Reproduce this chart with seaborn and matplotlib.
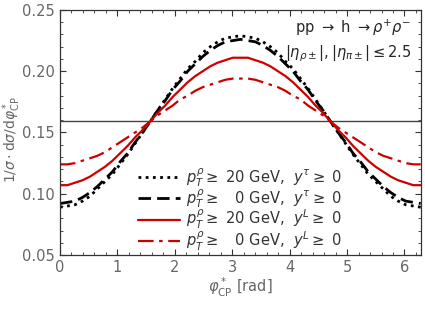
import numpy as np
import pandas as pd
import seaborn as sns
import matplotlib.pyplot as plt
from matplotlib.ticker import MultipleLocator

# phi*_CP sample points (rad), read every 7.5 degrees
phi = [0.000, 0.131, 0.262, 0.393, 0.524, 0.654, 0.785, 0.916, 1.047, 1.178, 1.309, 1.440,
       1.571, 1.702, 1.833, 1.963, 2.094, 2.225, 2.356, 2.487, 2.618, 2.749, 2.880, 3.011,
       3.142, 3.272, 3.403, 3.534, 3.665, 3.796, 3.927, 4.058, 4.189, 4.320, 4.451, 4.581,
       4.712, 4.843, 4.974, 5.105, 5.236, 5.367, 5.498, 5.629, 5.760, 5.890, 6.021, 6.152, 6.283]

tau_pt20 = [0.089, 0.090, 0.091, 0.094, 0.098, 0.104, 0.110, 0.116, 0.124, 0.132, 0.141, 0.150,
            0.159, 0.168, 0.177, 0.186, 0.194, 0.202, 0.208, 0.215, 0.220, 0.224, 0.227, 0.228,
            0.229, 0.228, 0.227, 0.224, 0.220, 0.215, 0.208, 0.202, 0.194, 0.186, 0.177, 0.168,
            0.159, 0.150, 0.141, 0.132, 0.124, 0.116, 0.110, 0.104, 0.098, 0.094, 0.091, 0.090, 0.089]
tau_pt0 = [0.092, 0.093, 0.094, 0.097, 0.101, 0.106, 0.112, 0.118, 0.126, 0.133, 0.142, 0.150,
           0.159, 0.168, 0.176, 0.185, 0.192, 0.200, 0.206, 0.212, 0.217, 0.221, 0.224, 0.225,
           0.226, 0.225, 0.224, 0.221, 0.217, 0.212, 0.206, 0.200, 0.192, 0.185, 0.176, 0.168,
           0.159, 0.150, 0.142, 0.133, 0.126, 0.118, 0.112, 0.106, 0.101, 0.097, 0.094, 0.093, 0.092]
lab_pt20 = [0.107, 0.107, 0.109, 0.111, 0.114, 0.118, 0.122, 0.127, 0.133, 0.139, 0.146, 0.152,
            0.159, 0.166, 0.172, 0.179, 0.185, 0.191, 0.196, 0.200, 0.204, 0.207, 0.209, 0.211,
            0.211, 0.211, 0.209, 0.207, 0.204, 0.200, 0.196, 0.191, 0.185, 0.179, 0.172, 0.166,
            0.159, 0.152, 0.146, 0.139, 0.133, 0.127, 0.122, 0.118, 0.114, 0.111, 0.109, 0.107, 0.107]
lab_pt0 = [0.124, 0.124, 0.125, 0.127, 0.129, 0.131, 0.134, 0.138, 0.142, 0.146, 0.150, 0.154,
           0.159, 0.164, 0.168, 0.172, 0.177, 0.180, 0.184, 0.187, 0.189, 0.191, 0.193, 0.194,
           0.194, 0.194, 0.193, 0.191, 0.189, 0.187, 0.184, 0.180, 0.177, 0.172, 0.168, 0.164,
           0.159, 0.154, 0.150, 0.146, 0.142, 0.138, 0.134, 0.131, 0.129, 0.127, 0.125, 0.124, 0.124]
flat = 0.159

labels = [r'$p_T^\rho \geq$ 20 GeV,  $y^\tau \geq$ 0',
          r'$p_T^\rho \geq$   0 GeV,  $y^\tau \geq$ 0',
          r'$p_T^\rho \geq$ 20 GeV,  $y^L \geq$ 0',
          r'$p_T^\rho \geq$   0 GeV,  $y^L \geq$ 0']
series = [tau_pt20, tau_pt0, lab_pt20, lab_pt0]
colors = ['black', 'black', '#cc0000', '#cc0000']
dashes = [(0, (1, 1.6)), (0, (4.5, 2.2)), '-', (0, (7, 2.5, 1.6, 2.5))]
widths = [2.0, 2.0, 1.6, 1.6]

sns.set_style('ticks')
plt.rcParams['font.family'] = ['DejaVu Sans']
plt.rcParams['mathtext.fontset'] = 'dejavusans'

fig = plt.figure(figsize=(4.25, 3.11), dpi=100)
ax = fig.add_axes([0.141, 0.180, 0.849, 0.788])

ax.axhline(flat, color='#444444', lw=1.0)
for y, lab, c, ls, lw in zip(series, labels, colors, dashes, widths):
    df = pd.DataFrame({'phi': phi, 'val': y})
    sns.lineplot(data=df, x='phi', y='val', ax=ax, color=c, lw=lw, label=lab)
    ax.lines[-1].set_linestyle(ls)

ax.set_xlim(0, 2 * np.pi)
ax.set_ylim(0.05, 0.25)
ax.xaxis.set_major_locator(MultipleLocator(1))
ax.xaxis.set_minor_locator(MultipleLocator(0.2))
ax.yaxis.set_major_locator(MultipleLocator(0.05))
ax.yaxis.set_minor_locator(MultipleLocator(0.01))
ax.set_yticks([0.05, 0.10, 0.15, 0.20, 0.25])
ax.set_yticklabels(['0.05', '0.10', '0.15', '0.20', '0.25'])
ax.tick_params(which='both', direction='in', top=True, right=True, colors='#333333',
               labelcolor='#666666', labelsize=10.5)
ax.tick_params(which='major', length=4)
ax.tick_params(which='minor', length=2)
for s in ax.spines.values():
    s.set_color('#333333')
    s.set_linewidth(0.9)

ax.set_xlabel(r'$\varphi^*_{\rm CP}$ [rad]', color='#666666', fontsize=10.5, labelpad=1)
ax.set_ylabel(r'$1/\sigma \cdot {\rm d}\sigma/{\rm d}\varphi^*_{\rm CP}$', color='#666666',
              fontsize=10)
ax.yaxis.set_label_coords(-0.102, 0.47)

ax.text(0.975, 0.97, r'pp $\rightarrow$ h $\rightarrow \rho^{+}\rho^{-}$', transform=ax.transAxes,
        ha='right', va='top', fontsize=10.5)
ax.text(0.975, 0.865, r'$|\eta_{\rho\pm}|,|\eta_{\pi\pm}|\leq 2.5$', transform=ax.transAxes,
        ha='right', va='top', fontsize=10.5)

leg = ax.legend(loc='lower left', bbox_to_anchor=(0.216, 0.01), frameon=False, fontsize=10.5,
                handlelength=2.9, handletextpad=0.4, labelspacing=-0.12, borderaxespad=0,
                borderpad=0)
for t in leg.get_texts():
    t.set_color('#333333')

fig.savefig('out.png', dpi=100)
